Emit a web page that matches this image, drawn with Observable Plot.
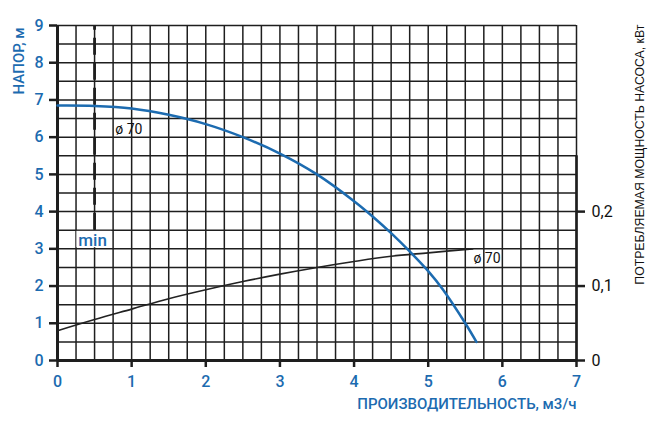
<!DOCTYPE html>
<html>
<head>
<meta charset="utf-8">
<script src="https://cdn.jsdelivr.net/npm/d3@7"></script>
<script src="https://cdn.jsdelivr.net/npm/@observablehq/plot@0.6"></script>
<style>
  html, body { margin: 0; padding: 0; background: #fff; }
  #chart svg { display: block; }
</style>
</head>
<body>
<div id="chart"></div>
<script>
// Head curve (НАПОР, м) vs flow (м3/ч)
const headQ = [0, 0.5, 1, 1.5, 2, 2.5, 3, 3.5, 4, 4.25, 4.5, 4.75, 5, 5.2, 5.5, 5.65];
const headH = [6.85, 6.84, 6.77, 6.6, 6.35, 6.0, 5.56, 5.0, 4.28, 3.87, 3.42, 2.93, 2.4, 1.9, 1.0, 0.5];
// Power curve (кВт) vs flow
const powerQ = [0, 0.5, 1, 1.5, 2, 2.5, 3, 3.5, 4, 4.5, 5, 5.6];
const powerP = [0.040, 0.055, 0.069, 0.083, 0.095, 0.106, 0.116, 0.125, 0.133, 0.140, 0.1446, 0.150];
// Axis ticks
const xTicks = [0, 1, 2, 3, 4, 5, 6, 7];
const yTicks = [0, 1, 2, 3, 4, 5, 6, 7, 8, 9];
const powerTicks = [0, 0.1, 0.2];
const powerTickLabels = ["0", "0,1", "0,2"];
const qMin = 0.5;
const xTitle = "ПРОИЗВОДИТЕЛЬНОСТЬ, м3/ч";
const yTitle = "НАПОР, м";
const y2Title = "ПОТРЕБЛЯЕМАЯ МОЩНОСТЬ НАСОСА, кВт";
const curveLabel = "ø 70";

const powerScale = 20; // 0.1 кВт ↔ 2 м on the shared vertical scale
const headData = headQ.map((q, i) => ({q, h: headH[i]}));
const powerData = powerQ.map((q, i) => ({q, p: powerP[i]}));

const blue = "#1c6bb0";
const ink = "#1e1e1e";

const chart = Plot.plot({
  width: 657,
  height: 429,
  marginLeft: 57,
  marginRight: 81,
  marginTop: 25,
  marginBottom: 69,
  style: {fontFamily: "Roboto, 'Liberation Sans', sans-serif", background: "#fff"},
  x: {domain: [0, 7]},
  y: {domain: [0, 9]},
  marks: [
    Plot.ruleX(d3.range(0, 7.001, 0.25), {stroke: ink, strokeWidth: 1.5}),
    Plot.ruleY(d3.range(0, 9.001, 0.5), {stroke: ink, strokeWidth: 1.5}),
    Plot.rect([{}], {x1: 0.262, x2: 0.735, y1: 3.03, y2: 3.47, fill: "#fff"}),
    Plot.ruleX([qMin], {y1: 3.5, y2: 9, stroke: ink, strokeWidth: 2.8, strokeDasharray: "17,8"}),
    Plot.ruleX([0], {stroke: ink, strokeWidth: 3}),
    Plot.ruleY([0], {stroke: ink, strokeWidth: 3}),
    Plot.ruleX([7], {y1: 0, y2: 5.5, stroke: ink, strokeWidth: 2.6}),
    Plot.line(powerData, {x: "q", y: d => d.p * powerScale, stroke: "#222", strokeWidth: 1.6, curve: "catmull-rom"}),
    Plot.line(headData, {x: "q", y: "h", stroke: blue, strokeWidth: 2.5, curve: "catmull-rom"}),
    Plot.axisX({ticks: xTicks, tickFormat: d => String(d), tickSize: 7, tickPadding: 8, strokeWidth: 2.5, stroke: ink, fill: blue, fontSize: 16, fontWeight: 500, label: null}),
    Plot.axisY({anchor: "left", ticks: yTicks, tickFormat: d => String(d), tickSize: 8, tickPadding: 6, strokeWidth: 2.5, stroke: ink, fill: blue, fontSize: 16, fontWeight: 500, label: null}),
    Plot.axisY({anchor: "right", ticks: powerTicks.map(p => p * powerScale), tickFormat: (d, i) => powerTickLabels[i], tickSize: 8, tickPadding: 7, strokeWidth: 2.5, stroke: ink, fill: "#111", fontSize: 16, label: null}),
    Plot.text([xTitle], {x: 7, y: 0, dy: 44, textAnchor: "end", fill: blue, fontSize: 15, fontWeight: 500}),
    Plot.text([yTitle], {x: 0, y: 8.95, dx: -38.5, rotate: -90, textAnchor: "end", fill: blue, fontSize: 15, fontWeight: 500}),
    Plot.text([y2Title], {x: 7, y: 5.53, dx: 63, rotate: -90, textAnchor: "middle", fill: "#111", fontSize: 13, fontFamily: "'Liberation Sans Narrow', 'Liberation Sans', sans-serif", className: "y2title"}),
    Plot.text([curveLabel], {x: 0.78, y: 6.2, textAnchor: "start", fill: "#111", fontSize: 14}),
    Plot.text([curveLabel], {x: 5.61, y: 2.75, textAnchor: "start", fill: "#111", fontSize: 14}),
    Plot.text(["min"], {x: 0.28, y: 3.23, textAnchor: "start", fill: blue, fontSize: 17, fontWeight: 500})
  ]
});
document.getElementById("chart").appendChild(chart);
d3.select(chart).selectAll("g.y2title text").attr("textLength", 260).attr("lengthAdjust", "spacingAndGlyphs");
</script>
</body>
</html>
